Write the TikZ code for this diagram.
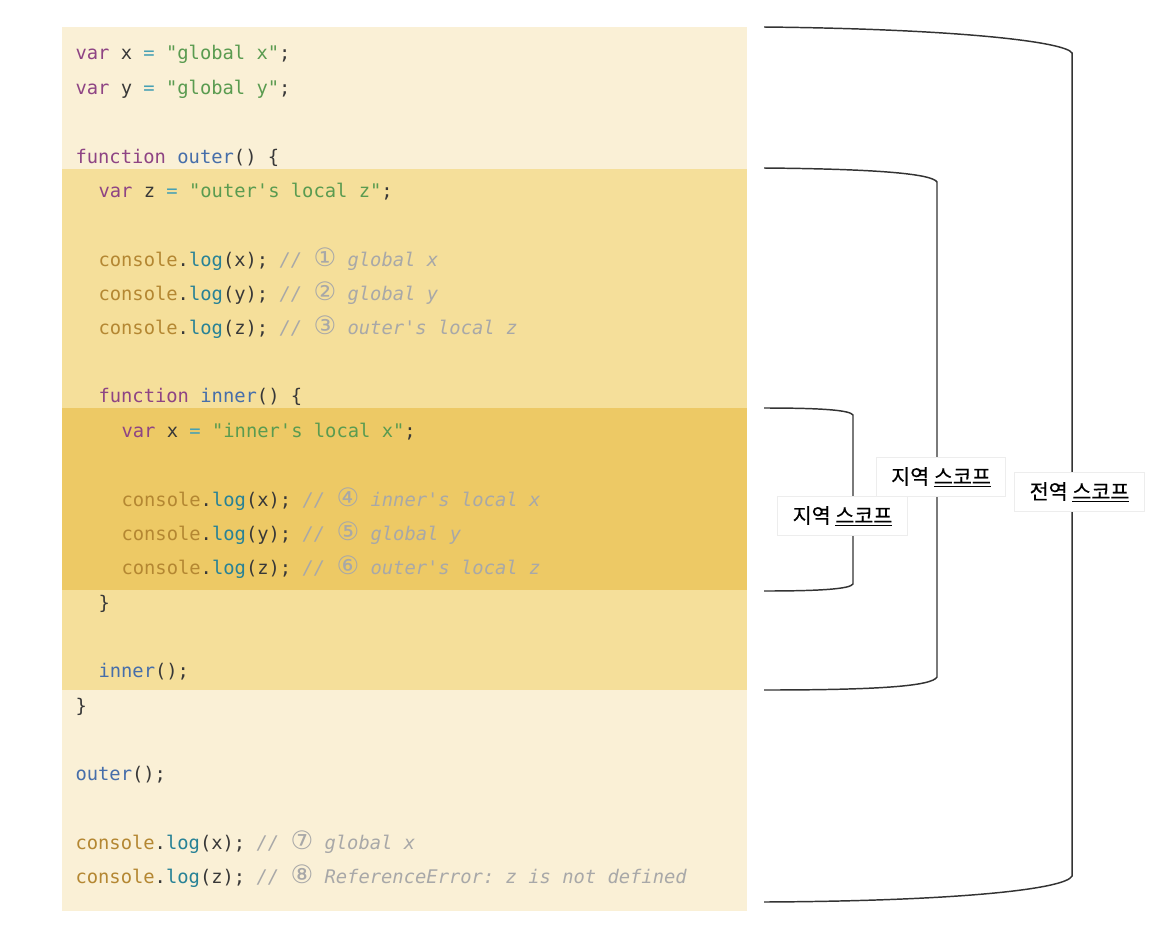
\documentclass[tikz,border=0pt]{standalone}
\usepackage{fontspec}
\newfontfamily\codefont{DejaVu Sans Mono}
\newfontfamily\circfont{DejaVu Sans}
\newfontfamily\krfont[FakeBold=0.4]{Noto Sans CJK KR}

\definecolor{jskwcol}{RGB}{142,68,132}
\definecolor{jsidcol}{RGB}{56,56,56}
\definecolor{jsopcol}{RGB}{70,160,180}
\definecolor{jsstrcol}{RGB}{90,155,80}
\definecolor{jsfncol}{RGB}{70,110,170}
\definecolor{jsconcol}{RGB}{180,135,50}
\definecolor{jslogcol}{RGB}{40,130,150}
\definecolor{jscmtcol}{RGB}{168,168,168}
\definecolor{globalbg}{RGB}{250,240,214}
\definecolor{outerbg}{RGB}{245,223,154}
\definecolor{innerbg}{RGB}{237,201,101}
\definecolor{bracketcol}{RGB}{51,51,51}

\newcommand{\jskw}[1]{\textcolor{jskwcol}{#1}}
\newcommand{\jsid}[1]{\textcolor{jsidcol}{#1}}
\newcommand{\jsop}[1]{\textcolor{jsopcol}{#1}}
\newcommand{\jsstr}[1]{\textcolor{jsstrcol}{#1}}
\newcommand{\jsfn}[1]{\textcolor{jsfncol}{#1}}
\newcommand{\jscon}[1]{\textcolor{jsconcol}{console}\jsid{.}\textcolor{jslogcol}{log}\jsid{(#1);}}
\newcommand{\jscmt}[2]{\textcolor{jscmtcol}{\itshape // {\circfont\upshape\fontsize{19}{19}\selectfont #1} #2}}

\tikzset{every picture/.style={line width=0.75pt}}
\tikzset{
  codeline/.style={anchor=base west, inner sep=0pt, font=\codefont\fontsize{14.1}{16}\selectfont\frenchspacing, text=jsidcol},
  scopelabel/.style={fill=white, draw=black!7, line width=0.6pt, inner sep=0pt, minimum width=97pt, minimum height=29.5pt, font=\krfont\fontsize{15.5}{18}\selectfont},
  bracket/.style={draw=bracketcol, line width=1.1pt}
}

\begin{document}
\begin{tikzpicture}[x=0.75pt,y=0.75pt,yscale=-1,xscale=1]
	\useasboundingbox [fill=white] (0,0) rectangle (1159,932);

	% Code panel
	\fill [globalbg] (62,27) rectangle (747,911);
	\fill [outerbg] (62,169) rectangle (747,690);
	\fill [innerbg] (62,408) rectangle (747,590);

	% Text Node
	\draw (75,59) node [codeline] (ln1) {\jskw{var} x \jsop{=} \jsstr{"global x"};};
	% Text Node
	\draw (75,94) node [codeline] (ln2) {\jskw{var} y \jsop{=} \jsstr{"global y"};};
	% Text Node
	\draw (75,163) node [codeline] (ln4) {\jskw{function} \jsfn{outer}() \{};
	% Text Node
	\draw (98,197) node [codeline] (ln5) {\jskw{var} z \jsop{=} \jsstr{"outer's local z"};};
	% Text Node
	\draw (98,266) node [codeline] (ln7) {\jscon{x} \jscmt{①}{global x}};
	% Text Node
	\draw (98,300) node [codeline] (ln8) {\jscon{y} \jscmt{②}{global y}};
	% Text Node
	\draw (98,334) node [codeline] (ln9) {\jscon{z} \jscmt{③}{outer's local z}};
	% Text Node
	\draw (98,402) node [codeline] (ln11) {\jskw{function} \jsfn{inner}() \{};
	% Text Node
	\draw (121,437) node [codeline] (ln12) {\jskw{var} x \jsop{=} \jsstr{"inner's local x"};};
	% Text Node
	\draw (121,506) node [codeline] (ln14) {\jscon{x} \jscmt{④}{inner's local x}};
	% Text Node
	\draw (121,540) node [codeline] (ln15) {\jscon{y} \jscmt{⑤}{global y}};
	% Text Node
	\draw (121,574) node [codeline] (ln16) {\jscon{z} \jscmt{⑥}{outer's local z}};
	% Text Node
	\draw (98,609) node [codeline] (ln17) {\}};
	% Text Node
	\draw (98,677) node [codeline] (ln19) {\jsfn{inner}();};
	% Text Node
	\draw (75,712) node [codeline] (ln20) {\}};
	% Text Node
	\draw (75,780) node [codeline] (ln22) {\jsfn{outer}();};
	% Text Node
	\draw (75,849) node [codeline] (ln24) {\jscon{x} \jscmt{⑦}{global x}};
	% Text Node
	\draw (75,883) node [codeline] (ln25) {\jscon{z} \jscmt{⑧}{ReferenceError: z is not defined}};

	% Global scope bracket
	\draw [bracket] (764,27) .. controls (960,29) and (1066,42) .. (1072,53) -- (1072,876) .. controls (1066,889) and (960,901) .. (764,902) ;
	% Outer scope bracket
	\draw [bracket] (764,168) .. controls (880,169) and (932,174) .. (937,182) -- (937,677) .. controls (932,686) and (880,690) .. (764,690) ;
	% Inner scope bracket
	\draw [bracket] (764,408) .. controls (820,408) and (850,410) .. (853,415) -- (853,584) .. controls (850,589) and (820,591) .. (764,591) ;

	% Text Node
	\draw (941,477) node [scopelabel] (outerlbl) {지역 \underline{스코프}};
	% Text Node
	\draw (1079.5,492) node [scopelabel] (globallbl) {전역 \underline{스코프}};
	% Text Node
	\draw (842.5,516) node [scopelabel] (innerlbl) {지역 \underline{스코프}};

\end{tikzpicture}
\end{document}
